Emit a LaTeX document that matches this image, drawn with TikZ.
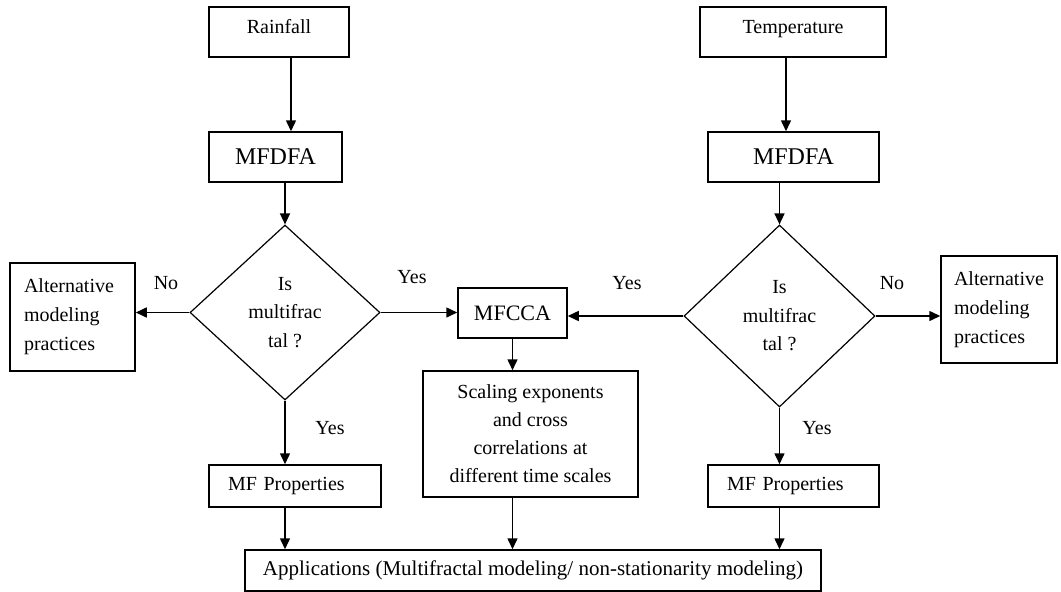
\documentclass[tikz,border=0pt]{standalone}
\usepackage{fontspec}
\setmainfont{Liberation Serif}
\usetikzlibrary{shapes.geometric,arrows.meta}
\begin{document}
\begin{tikzpicture}[x=1pt,y=-1pt,
  box/.style={draw, line width=1.5pt, inner sep=0pt, font=\fontsize{20}{29}\selectfont, align=center},
  big/.style={font=\fontsize{24}{28}\selectfont},
  mid/.style={font=\fontsize{22}{26}\selectfont},
  dia/.style={draw, diamond, line width=1.2pt, inner sep=0pt, font=\fontsize{20}{28.5}\selectfont, align=center},
  lbl/.style={inner sep=0pt, font=\fontsize{20}{24}\selectfont},
  arr/.style={line width=1.5pt, -{Triangle[length=11pt,width=10pt]}}]
\useasboundingbox (0,0) rectangle (1061,592);

% left column
\node[box, minimum width=140, minimum height=50, text height=14, text depth=12] (rain) at (279,32) {Rainfall};
\node[box, big, minimum width=133, minimum height=50] (mfl) at (275.5,157) {MFDFA};
\node[dia, minimum width=190, minimum height=175] (dl) at (285,312.5) {Is\\multifrac\\tal ?};
\node[box, minimum width=125, minimum height=108, text width=97, align=left] (altl) at (72.5,317) {Alternative\\modeling\\practices};
\node[box, minimum width=172, minimum height=42, text width=134, align=left] (mfpl) at (295,486) {MF Properties};

% middle column
\node[box, mid, minimum width=109, minimum height=50] (mfcca) at (512.5,313) {MFCCA};
\node[box, minimum width=215, minimum height=126, font=\fontsize{20}{28}\selectfont] (scal) at (530.5,434) {Scaling exponents\\and cross\\correlations at\\different time scales};
\node[box, minimum width=576, minimum height=41, font=\fontsize{21}{25}\selectfont] (app) at (533,570.5) {Applications (Multifractal modeling/ non-stationarity modeling)};

% right column
\node[box, minimum width=186, minimum height=50, text height=14, text depth=12] (temp) at (793,32) {Temperature};
\node[box, big, minimum width=171, minimum height=50] (mfr) at (793.5,157) {MFDFA};
\node[dia, minimum width=191, minimum height=182] (dr) at (779.5,316) {Is\\multifrac\\tal ?};
\node[box, minimum width=116, minimum height=107, text width=90, align=left] (altr) at (999,309.5) {Alternative\\modeling\\practices};
\node[box, minimum width=171, minimum height=42, text width=133, align=left] (mfpr) at (793.5,486) {MF Properties};

% labels
\node[lbl] (noL) at (166,283) {No};
\node[lbl] (yesL) at (412,277) {Yes};
\node[lbl] (yesLd) at (330,428) {Yes};
\node[lbl] (yesR) at (627,283) {Yes};
\node[lbl] (noR) at (892,283) {No};
\node[lbl] (yesRd) at (817,428) {Yes};

% connectors left
\draw[arr] ([xshift=12pt]rain.south) -- ([xshift=12pt]rain.south |- mfl.north);
\draw[arr] (mfl.south -| dl.north) -- (dl.north);
\draw[arr] (dl.west) -- (dl.west -| altl.east);
\draw[arr] (dl.east) -- (dl.east -| mfcca.west);
\draw[arr] (dl.south) -- (dl.south |- mfpl.north);
\draw[arr] (dl.south |- mfpl.south) -- (dl.south |- app.north);

% connectors middle
\draw[arr] (mfcca.south) -- (mfcca.south |- scal.north);
\draw[arr] (mfcca.south |- scal.south) -- (mfcca.south |- app.north);

% connectors right
\draw[arr] ([xshift=-7pt]temp.south) -- ([xshift=-7pt]temp.south |- mfr.north);
\draw[arr] (mfr.south -| dr.north) -- (dr.north);
\draw[arr] (dr.west) -- (dr.west -| mfcca.east);
\draw[arr] (dr.east) -- (dr.east -| altr.west);
\draw[arr] (dr.south) -- (dr.south |- mfpr.north);
\draw[arr] (dr.south |- mfpr.south) -- (dr.south |- app.north);
\end{tikzpicture}
\end{document}
